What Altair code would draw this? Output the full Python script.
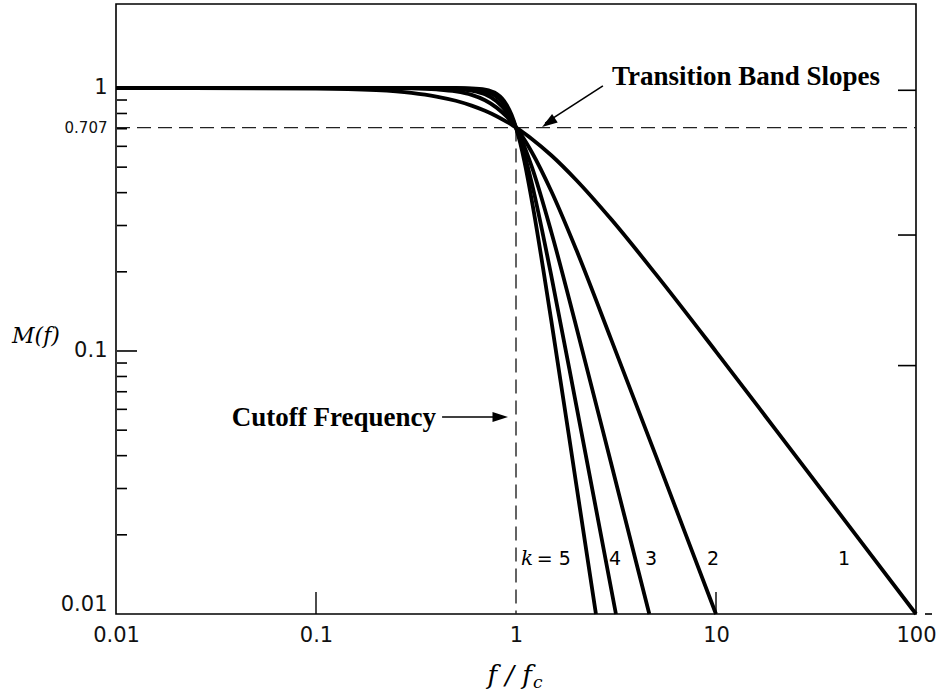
import altair as alt
import pandas as pd

# ---- curve samples ----
f_k1 = [0.01, 0.1, 0.2, 0.3, 0.4, 0.5, 0.6, 0.7, 0.8, 0.9, 0.95, 1.0, 1.05, 1.2, 1.5, 2, 3, 5, 10, 20, 50, 100]
m_k1 = [1.0, 0.995, 0.981, 0.958, 0.928, 0.894, 0.857, 0.819, 0.781, 0.743, 0.725, 0.707, 0.690, 0.640, 0.555, 0.447, 0.316, 0.196, 0.0995, 0.0499, 0.0200, 0.0100]
f_k2 = [0.01, 0.1, 0.2, 0.3, 0.4, 0.5, 0.6, 0.7, 0.8, 0.9, 0.95, 1.0, 1.05, 1.2, 1.5, 2, 3, 5, 7, 10]
m_k2 = [1.0, 1.0, 0.999, 0.996, 0.987, 0.970, 0.941, 0.898, 0.842, 0.777, 0.742, 0.707, 0.672, 0.570, 0.406, 0.243, 0.110, 0.0400, 0.0204, 0.0100]
f_k3 = [0.01, 0.1, 0.3, 0.4, 0.5, 0.6, 0.7, 0.8, 0.9, 0.95, 1.0, 1.05, 1.2, 1.5, 2, 3, 4, 4.64]
m_k3 = [1.0, 1.0, 1.0, 0.998, 0.992, 0.977, 0.946, 0.890, 0.808, 0.759, 0.707, 0.654, 0.501, 0.284, 0.124, 0.0370, 0.0156, 0.0100]
f_k4 = [0.01, 0.1, 0.3, 0.5, 0.6, 0.7, 0.8, 0.85, 0.9, 0.95, 1.0, 1.05, 1.1, 1.2, 1.5, 2, 2.5, 3.16]
m_k4 = [1.0, 1.0, 1.0, 0.998, 0.992, 0.972, 0.925, 0.886, 0.836, 0.775, 0.707, 0.635, 0.564, 0.434, 0.194, 0.0624, 0.0256, 0.0100]
f_k5 = [0.01, 0.1, 0.3, 0.5, 0.6, 0.7, 0.8, 0.85, 0.9, 0.95, 1.0, 1.05, 1.1, 1.2, 1.5, 2, 2.51]
m_k5 = [1.0, 1.0, 1.0, 1.0, 0.997, 0.986, 0.950, 0.914, 0.861, 0.791, 0.707, 0.617, 0.528, 0.373, 0.131, 0.0312, 0.0100]

# ---- axis ticks and labels ----
x_tick_values = [0.01, 0.1, 1, 10, 100]
y_tick_values = [0.01, 0.1, 0.707, 1]
left_minor_ticks = [0.9, 0.8, 0.7, 0.6, 0.5, 0.4, 0.3, 0.2, 0.09, 0.08, 0.07, 0.06, 0.05, 0.04, 0.03, 0.02]
left_major_ticks = [0.1]
right_ticks = [0.98, 0.276, 0.088]
bottom_ticks = [0.1, 10]
cutoff_level = [0.707]
cutoff_freq = [1.0]

# curve labels
curve_label_text = ["= 5", "4", "3", "2", "1"]
curve_label_f = [1.27, 3.13, 4.73, 9.66, 43.7]
curve_label_m = [0.0162, 0.0162, 0.0162, 0.0162, 0.0162]

W, H = 800, 610
FMIN, FMAX = 0.01, 100
MMIN, MMAX = 0.01, 2.086

rows = []
for k, fs, ms in [(1, f_k1, m_k1), (2, f_k2, m_k2), (3, f_k3, m_k3), (4, f_k4, m_k4), (5, f_k5, m_k5)]:
    for f, m in zip(fs, ms):
        rows.append({"k": k, "f": f, "m": m})
curves_df = pd.DataFrame(rows)

xs = alt.Scale(type="log", domain=[FMIN, FMAX], nice=False)
ys = alt.Scale(type="log", domain=[MMIN, MMAX], nice=False)

xaxis = alt.Axis(values=x_tick_values, format="~g", title=None, grid=False, domain=False,
                 ticks=False, labelPadding=10, labelFont="DejaVu Sans", labelFontSize=21,
                 labelColor="#111111", labelFlush=False)
yaxis = alt.Axis(values=y_tick_values, format="~g", title=None, grid=False, domain=False,
                 ticks=False, labelPadding=9, labelFont="DejaVu Sans",
                 labelFontSize={"condition": {"test": "datum.value == 0.707", "value": 15}, "value": 21},
                 labelColor="#111111", labelFlush=True)

curves = alt.Chart(curves_df).mark_line(color="black", strokeWidth=3.8, interpolate="monotone").encode(
    x=alt.X("f:Q", scale=xs, axis=xaxis),
    y=alt.Y("m:Q", scale=ys, axis=yaxis),
    detail="k:N",
)

dash_style = dict(color="#222222", strokeWidth=1.4, strokeDash=[14, 7])
hdash = alt.Chart(pd.DataFrame({"f": [FMIN], "f2": [FMAX], "m": cutoff_level})).mark_rule(**dash_style).encode(
    x="f:Q", x2="f2:Q", y="m:Q")
vdash = alt.Chart(pd.DataFrame({"f": cutoff_freq, "m": cutoff_level, "m2": [MMIN]})).mark_rule(**dash_style).encode(
    x="f:Q", y="m:Q", y2="m2:Q")

minor = alt.Chart(pd.DataFrame({"m": left_minor_ticks})).mark_rule(color="black", strokeWidth=1.6).encode(
    y="m:Q", x=alt.value(1), x2=alt.value(11))
major = alt.Chart(pd.DataFrame({"m": left_major_ticks})).mark_rule(color="black", strokeWidth=1.6).encode(
    y="m:Q", x=alt.value(1), x2=alt.value(21))
rticks = alt.Chart(pd.DataFrame({"m": right_ticks})).mark_rule(color="black", strokeWidth=1.6).encode(
    y="m:Q", x=alt.value(W - 18), x2=alt.value(W))
rdash = alt.Chart(pd.DataFrame({"m": [MMIN]})).mark_rule(color="black", strokeWidth=1.6).encode(
    y="m:Q", x=alt.value(W + 9), x2=alt.value(W + 16))
bticks = alt.Chart(pd.DataFrame({"f": bottom_ticks})).mark_rule(color="black", strokeWidth=1.4).encode(
    x="f:Q", y=alt.value(H), y2=alt.value(H - 22))

labels_df = pd.DataFrame({"t": curve_label_text, "f": curve_label_f, "m": curve_label_m})
first = labels_df.iloc[:1]
rest = labels_df.iloc[1:]
k5 = alt.Chart(first).mark_text(font="DejaVu Sans", fontSize=19, align="left", baseline="middle", color="black").encode(
    x="f:Q", y="m:Q", text="t:N")
kital = alt.Chart(pd.DataFrame({"t": ["k"], "f": [1.06], "m": [0.0162]})).mark_text(
    font="DejaVu Serif", fontStyle="italic", fontSize=20, align="left", baseline="middle", color="black").encode(
    x="f:Q", y="m:Q", text="t:N")
knums = alt.Chart(rest).mark_text(font="DejaVu Sans", fontSize=19, align="center", baseline="middle", color="black").encode(
    x="f:Q", y="m:Q", text="t:N")

ann_font = dict(font="Liberation Serif", fontWeight="bold", fontSize=27, color="black")
t_slopes = alt.Chart(pd.DataFrame({"t": ["Transition Band Slopes"], "f": [3.02], "m": [1.03]})).mark_text(
    align="left", baseline="alphabetic", **ann_font).encode(x="f:Q", y="m:Q", text="t:N")
t_cutoff = alt.Chart(pd.DataFrame({"t": ["Cutoff Frequency"], "f": [0.398], "m": [0.0518]})).mark_text(
    align="right", baseline="alphabetic", **ann_font).encode(x="f:Q", y="m:Q", text="t:N")

arrow_path = "M0,0L-0.65,2L0.65,2Z"
a1_line = alt.Chart(pd.DataFrame({"f": [2.72], "m": [1.018], "f2": [1.40], "m2": [0.735]})).mark_rule(
    color="black", strokeWidth=1.6).encode(x="f:Q", y="m:Q", x2="f2:Q", y2="m2:Q")
a1_head = alt.Chart(pd.DataFrame({"f": [1.35], "m": [0.711]})).mark_point(
    shape=arrow_path, filled=True, color="black", opacity=1, size=240, angle=236).encode(x="f:Q", y="m:Q")
a2_line = alt.Chart(pd.DataFrame({"f": [0.427], "m": [0.0561], "f2": [0.85], "m2": [0.0561]})).mark_rule(
    color="black", strokeWidth=1.6).encode(x="f:Q", y="m:Q", x2="f2:Q", y2="m2:Q")
a2_head = alt.Chart(pd.DataFrame({"f": [0.912], "m": [0.0561]})).mark_point(
    shape=arrow_path, filled=True, color="black", opacity=1, size=240, angle=90).encode(x="f:Q", y="m:Q")

ylab = alt.Chart(pd.DataFrame({"t": ["M(f)"]})).mark_text(
    font="DejaVu Serif", fontStyle="italic", fontSize=22, align="center", baseline="middle", color="black").encode(
    x=alt.value(-80), y=alt.value(332), text="t:N")
xlab = alt.Chart(pd.DataFrame({"t": ["f / f"]})).mark_text(
    font="DejaVu Serif", fontStyle="italic", fontSize=26, align="right", baseline="alphabetic", color="black").encode(
    x=alt.value(416), y=alt.value(680), text="t:N")
xsub = alt.Chart(pd.DataFrame({"t": ["c"]})).mark_text(
    font="DejaVu Serif", fontStyle="italic", fontSize=17, align="left", baseline="alphabetic", color="black").encode(
    x=alt.value(417), y=alt.value(684), text="t:N")

chart = alt.layer(
    hdash, vdash, minor, major, rticks, rdash, bticks, curves,
    k5, kital, knums, t_slopes, t_cutoff, a1_line, a1_head, a2_line, a2_head, ylab, xlab, xsub,
).properties(
    width=W, height=H,
    padding={"left": 116, "top": 4, "right": 22, "bottom": 79},
    autosize="none",
    background="white",
).configure_view(
    stroke="black", strokeWidth=1.6
)

chart.save("out.html", embed_options={"renderer": "svg", "actions": False})
